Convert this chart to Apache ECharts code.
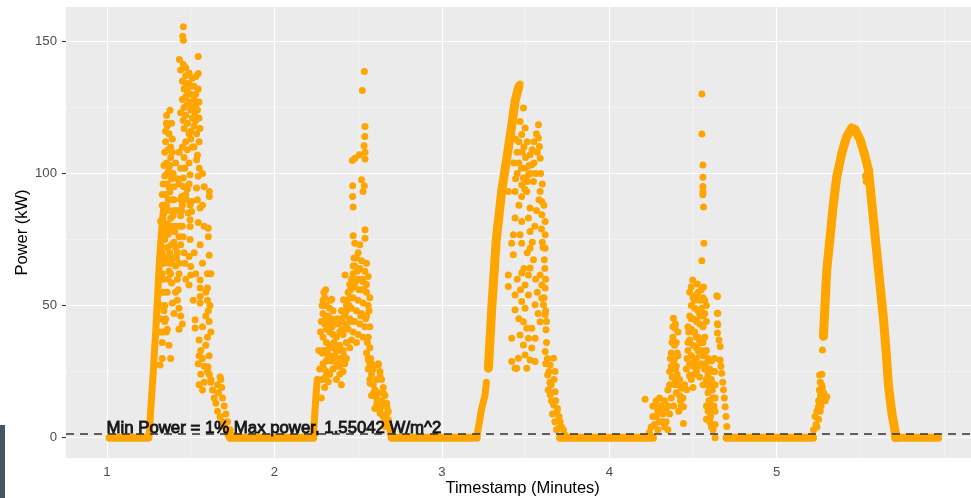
<!DOCTYPE html>
<html>
<head>
<meta charset="utf-8">
<script src="https://cdn.jsdelivr.net/npm/echarts@6/dist/echarts.min.js"></script>
<style>
html,body{margin:0;padding:0;background:#ffffff;}
#chart{width:971px;height:498px;}
</style>
</head>
<body>
<div id="chart"></div>
<script>
// ---- axes ----
const xTicks = [1, 2, 3, 4, 5];
const xMinorGrid = [1.5, 2.5, 3.5, 4.5, 5.5, 6];
const yTicks = [0, 50, 100, 150];
const yMinorGrid = [25, 75, 125];

// ---- threshold annotation ----
const minPower = 1.55042;
const minPowerText = 'Min Power = 1% Max power, 1.55042 W/m^2';

// ---- stretches where output stays at 0 kW: [start, end] in minutes ----
const zeroRuns = [[1.015, 1.245], [1.735, 2.232], [2.70, 3.208], [3.706, 4.261], [4.70, 5.217], [5.707, 5.964]];

// ---- tightly packed samples, traced as continuous bands ----
const rise1 = [[1.25, 0], [1.275, 23.7], [1.293, 42.6], [1.314, 68], [1.329, 80.5], [1.34, 88]];
const rise2 = [[2.232, 0], [2.24, 8], [2.248, 16], [2.256, 22]];
const rise3a = [[3.208, 0], [3.238, 11.1], [3.258, 16.2], [3.266, 21]];
const rise3b = [[3.278, 26.3], [3.298, 49], [3.324, 74.2], [3.357, 93.2], [3.388, 105.8], [3.418, 118.4], [3.437, 127.3], [3.46, 133]];
const arc5 = [[5.279, 38.3], [5.289, 50.9], [5.299, 63.5], [5.319, 76.1], [5.339, 88.8], [5.359, 98.9], [5.389, 107.7],
  [5.418, 114], [5.448, 117.2], [5.468, 116.6], [5.498, 112.8], [5.528, 106.4], [5.548, 101.4], [5.558, 95.1],
  [5.578, 82.5], [5.598, 69.8], [5.618, 57.2], [5.638, 44.6], [5.654, 32], [5.668, 19.3], [5.688, 9.2], [5.707, 2.3], [5.712, 0]];

// ---- individual samples (minutes, kW) ----
const day1Points = [
  [1.456,155.5],[1.452,151.9],[1.456,150.4],[1.545,144.3],[1.432,143.1],[1.456,141.2],[1.44,139.2],[1.545,137.8],[1.531,136.7],
  [1.45,135],[1.47,134],[1.46,132],[1.48,131],[1.5,130],[1.47,129],[1.45,128],[1.49,127],[1.52,128],[1.53,126],[1.46,125],
  [1.5,124],[1.54,124],[1.47,122],[1.51,121],[1.55,121],[1.44,123],[1.48,119],[1.52,118],[1.46,117],[1.545,132],[1.53,130],
  [1.55,127],[1.49,134],[1.51,136],[1.47,137],[1.455,120],[1.5,116],[1.525,123],
  [1.47,140],[1.49,138],[1.50,133],[1.52,133],[1.48,126],[1.51,125],[1.53,120],[1.49,115],[1.51,110],[1.47,112],[1.45,110],
  [1.43,108],[1.44,102],[1.42,98],[1.41,104],[1.40,95],[1.43,96],[1.45,88],[1.47,92],[1.49,96],
  [1.376,123.9],[1.356,121.9],[1.36,118],[1.37,115],[1.35,112],[1.365,109],[1.38,106],[1.355,104],[1.37,101],[1.385,98],
  [1.36,96],[1.375,93],[1.39,90],[1.355,88],[1.37,86],[1.38,83],[1.36,81],[1.39,113],[1.385,119],[1.345,99],[1.35,92],
  [1.39,108],[1.395,100],
  [1.33,92],[1.335,60],[1.34,55],[1.345,50],[1.35,45],[1.355,40],[1.36,55],[1.365,60],[1.37,66],[1.375,70],[1.38,62],
  [1.385,66],[1.39,80],[1.395,84],[1.40,86],[1.405,78],[1.41,72],[1.415,68],[1.42,60],[1.425,56],[1.43,66],[1.435,80],
  [1.44,90],[1.445,86],[1.45,80],[1.455,76],[1.46,70],[1.465,66],[1.47,60],[1.475,90],[1.48,94],[1.485,85],[1.34,48],
  [1.345,44],[1.335,40],[1.33,30],[1.325,55],[1.33,62],[1.335,96],[1.34,103],[1.345,108],[1.35,116],[1.355,119],[1.36,100],
  [1.365,90],[1.37,95],[1.375,103],[1.38,110],
  [1.535,115],[1.55,112],[1.52,110],[1.54,107],[1.5,113],[1.48,109],[1.535,105.2],[1.551,102],[1.465,102],[1.496,99.5],
  [1.545,98.9],[1.456,98.3],[1.456,95.1],[1.535,94.5],[1.555,117],[1.46,106],[1.49,104],
  [1.611,93.2],[1.611,91.3],[1.446,91.3],[1.505,89.4],[1.496,88.1],[1.556,86.9],[1.505,85.6],[1.496,82.5],[1.545,81.4],
  [1.496,79.9],[1.605,79.3],
  [1.33,88],[1.34,85],[1.32,82],[1.35,79],[1.38,78],[1.41,80],[1.43,76],[1.40,74],[1.36,72],[1.33,70],[1.42,70],[1.44,73],
  [1.39,68],[1.34,66],[1.37,63],[1.42,86],[1.40,90],[1.44,84],[1.345,75],[1.365,77],[1.385,73],[1.35,68],[1.41,65],[1.43,62],
  [1.496,75],[1.556,73],[1.605,76],[1.61,69],[1.62,62],[1.49,68.6],[1.5,64.8],[1.5,61.6],[1.49,57.8],[1.556,59.7],
  [1.556,56.6],[1.556,53.4],[1.556,51],[1.526,44.6],[1.526,41.5],[1.386,58.5],
  [1.57,100],[1.58,95],[1.57,88],[1.58,80],[1.57,66],[1.59,55],[1.6,62],[1.615,50],[1.53,62],[1.52,70],[1.54,90],[1.515,52],
  [1.41,55],[1.42,52],[1.43,49],[1.44,46],[1.45,43],[1.43,41],[1.40,47],[1.39,51],
  [1.32,50],[1.32,45],[1.32,40],[1.33,36],[1.36,41],[1.37,35],[1.38,30],[1.317,27.5],
  [1.60,56.6],[1.60,52],[1.605,48],[1.61,44],
  [1.55,37],[1.56,33],[1.57,30],[1.58,27],[1.56,24],[1.55,20],[1.57,18],[1.59,35],[1.6,38],[1.61,31],[1.6,25],[1.62,22],
  [1.58,21],[1.57,42],[1.59,46],[1.62,40],[1.545,28],[1.55,31],
  [1.603,26.8],[1.61,24],[1.62,21],[1.63,18],[1.64,15],[1.65,13],[1.66,10],[1.675,8],[1.69,6],[1.70,4],[1.715,2],[1.723,1],
  [1.675,23],[1.685,19],[1.69,15],[1.70,12],[1.71,9],[1.72,6],[1.735,3],[1.747,1],[1.68,22],[1.665,17],[1.66,20]
];
const day2Points = [
  [2.537,138.6],[2.525,131.4],[2.541,117.8],[2.54,114],[2.535,110.5],[2.541,108],[2.541,105.5],[2.465,104.9],[2.481,105.8],
  [2.507,107.1],[2.52,97.6],[2.537,95.3],[2.529,93.2],[2.467,95.3],[2.467,91.3],[2.47,87.3],[2.541,78.7],[2.47,76.4],
  [2.541,75.5],[2.48,73.6],[2.51,73],
  [2.50,70],[2.49,68],[2.52,67],[2.55,66],[2.48,65],[2.51,64],[2.54,63],[2.56,61],[2.47,62],[2.50,60],[2.53,59],[2.45,58],
  [2.48,57],[2.52,56],[2.55,55],[2.44,55],[2.47,53],[2.50,52],[2.53,51],[2.56,50],[2.43,50],[2.46,49],[2.49,48],[2.52,47],
  [2.55,46],[2.45,45],[2.48,44],[2.51,43],[2.54,42],[2.47,40],[2.50,39],[2.53,38],[2.49,36],[2.55,58],[2.57,53],[2.42,46],
  [2.44,41],[2.46,37],[2.422,61.6],[2.412,52.2],
  [2.306,56],[2.342,52.4],[2.30,53],[2.31,50],[2.33,49],[2.35,48],[2.29,47],[2.32,46],[2.34,45],[2.36,44],[2.38,43],
  [2.40,45],[2.42,47],[2.30,43],[2.31,41],[2.33,40],[2.35,39],[2.37,38],[2.39,40],[2.41,39],[2.43,42],[2.29,38],[2.31,36],
  [2.33,35],[2.35,34],[2.37,33],[2.39,35],[2.41,33],[2.43,36],[2.30,32],[2.32,30],[2.34,29],[2.36,31],[2.38,28],[2.40,30],
  [2.42,28],[2.29,28],[2.31,25],[2.33,24],[2.35,26],[2.37,22],[2.39,24],[2.285,22],[2.30,19],[2.322,21.2],[2.28,15],
  [2.40,20],[2.27,26],[2.265,33],
  [2.275,40],[2.28,44],[2.285,50],[2.29,52],[2.295,55],[2.305,45],[2.315,33],[2.325,43],[2.335,52],[2.345,42],[2.355,36],
  [2.365,35],[2.375,45],[2.385,33],[2.39,30],[2.395,44],[2.40,48],[2.405,41],[2.415,31],[2.425,43],[2.43,48],[2.435,52],
  [2.445,50],[2.45,53],[2.455,56],[2.46,60],[2.465,57],[2.47,65],[2.475,68],[2.485,59],[2.495,63],[2.505,56],[2.515,46],
  [2.525,60],[2.535,56],[2.545,45],[2.555,36],[2.565,48],[2.57,42],[2.56,38],[2.57,34],[2.575,30],[2.58,28],[2.29,33],
  [2.31,29],[2.33,31],[2.35,30],[2.37,27],[2.39,27],[2.41,25],[2.43,30],[2.45,34],[2.46,44],[2.285,32],[2.295,26],[2.305,23],
  [2.561,29.4],[2.621,27.5],[2.631,23.1],[2.571,20.6],[2.591,16.8],[2.651,16.8],[2.611,13],[2.671,11.7],[2.631,9.2],
  [2.681,6.7],[2.661,4.2],[2.691,1.7],
  [2.55,32],[2.56,30],[2.57,28],[2.56,26],[2.58,24],[2.57,22],[2.59,20],[2.60,18],[2.58,16],[2.61,15],[2.62,13],[2.60,11],
  [2.63,10],[2.64,12],[2.65,8],[2.66,6],[2.67,9],[2.68,5],[2.69,3],[2.62,17],[2.64,14],[2.59,26],[2.61,22],
  [2.62,28],[2.63,25],[2.64,22],[2.65,19],[2.66,16],[2.67,13],[2.68,10]
];
const day3Points = [
  [3.467,133.9],[3.447,131.1],[3.437,126],[3.427,121],[3.487,124.8],[3.467,119.7],[3.477,114.7],[3.497,117.2],[3.577,118.4],
  [3.577,113.4],[3.583,110.2],[3.587,105.8],[3.527,107.1],[3.537,103.3],[3.517,99.5],[3.487,98.3],[3.547,97],[3.477,95.7],
  [3.507,93.2],[3.587,93.2],[3.477,91.3],[3.437,93.2],[3.397,93.2],[3.527,86.9],[3.517,83.1],[3.597,89.4],[3.597,84.4],
  [3.617,81.8],[3.437,83.1],[3.477,81.8],[3.427,76.8],[3.417,73.6],[3.467,76.8],[3.477,73.6],[3.527,78],[3.527,71.7],
  [3.427,69.2],[3.617,76.8],[3.617,71.7],[3.612,67.3],[3.547,67.3],[3.527,64.2],[3.517,61.6],[3.397,61.6],[3.477,62.3],
  [3.397,57.2],[3.437,54],[3.497,57.8],[3.517,54],[3.587,61.6],[3.597,57.8],[3.617,56.6],[3.597,52.8],[3.477,51.5],
  [3.497,49],[3.437,48.4],[3.557,50.3],[3.607,50.3],[3.617,46.5],[3.587,43.9],[3.622,40.8],
  [3.487,43.9],[3.507,41.4],[3.537,41.4],[3.467,38.9],[3.517,37.6],[3.557,37.6],[3.487,35.1],[3.537,33.9],[3.497,31.3],
  [3.457,30.1],[3.527,29.4],[3.557,28.8],[3.447,26.3],[3.507,26.3],[3.417,37.6],[3.417,28.8],[3.437,26.3],
  [3.45,60],[3.46,45],[3.47,56],[3.49,64],[3.51,70],[3.54,74],[3.56,60],[3.57,55],[3.575,47],[3.58,90],[3.565,86],
  [3.555,80],[3.46,88],[3.44,98],[3.43,104],[3.45,100],[3.475,102],
  [3.49,110],[3.50,106],[3.51,112],[3.52,103],[3.54,109],[3.55,104],[3.56,100],[3.57,108],[3.53,100],[3.50,102],[3.48,108],
  [3.46,112],[3.55,112],[3.565,115],[3.51,97],[3.495,94],[3.46,104],[3.45,108],[3.44,113],
  [3.59,100],[3.6,96],[3.595,79],[3.6,74],[3.61,53],[3.62,48],[3.625,44],[3.61,88],[3.615,64],[3.62,60],[3.605,72],
  [3.617,32.6],[3.667,30.1],[3.647,27.5],[3.676,25],[3.632,23.7],[3.652,20],[3.676,17.4],[3.647,16.2],[3.667,12.4],
  [3.688,9.8],[3.706,6.1],[3.726,2.9],[3.697,3.6],[3.625,36],[3.63,30],[3.64,25],[3.645,21],[3.655,14],[3.66,9],[3.675,6],
  [3.685,3],[3.62,28],[3.635,18],[3.67,22],[3.68,14],[3.69,11],[3.70,8],[3.715,4],[3.735,1]
];
const day4Points = [
  [4.553,130.1],[4.553,114.9],[4.559,103.2],[4.559,98.6],[4.559,95.1],[4.559,93.2],[4.559,91.9],[4.563,87.3],[4.565,73.6],
  [4.553,67],[4.498,59.7],[4.489,57],[4.526,58.2],[4.563,57],[4.642,53.7],[4.646,47.1],[4.646,43.1],
  [4.214,14.5],[4.25,4],[4.26,8],[4.27,12],[4.28,14],[4.29,10],[4.30,6],[4.31,12],[4.32,9],[4.33,14],[4.34,11],[4.30,15],
  [4.27,5],[4.29,3],[4.33,4],[4.3,10],[4.32,6],[4.28,8],[4.35,3],[4.24,2],[4.26,12],
  [4.383,45.2],[4.393,41.4],[4.38,38],[4.39,35],[4.37,32],[4.385,29],[4.395,26],[4.375,23],[4.39,20],[4.40,17],[4.37,15],
  [4.385,12],[4.36,9],[4.40,36],[4.41,31],[4.405,24],[4.35,18],[4.36,25],[4.37,27],[4.42,22],[4.43,19],[4.433,18.7],
  [4.443,11.7],[4.443,5.4],[4.425,14],[4.415,10],[4.463,18.1],[4.479,23.4],[4.483,23.7],[4.41,40],[4.395,43],
  [4.34,6],[4.35,12],[4.36,20],[4.365,30],[4.375,36],[4.38,42],[4.39,30],[4.395,22],[4.40,27],[4.405,32],[4.41,20],
  [4.42,16],[4.43,12],[4.44,15],[4.45,20],[4.46,26],[4.465,30],[4.47,36],[4.475,40],[4.48,28],[4.49,22],[4.50,19],
  [4.51,24],[4.52,30],[4.53,33],[4.54,36],[4.55,33],[4.56,36],[4.57,32],[4.575,28],[4.58,26],[4.585,20],[4.59,24],
  [4.595,14],[4.60,10],[4.605,8],[4.61,4],[4.615,18],[4.62,20],[4.625,12],[4.49,45],[4.51,52],[4.53,55],[4.55,56],
  [4.57,52],[4.50,40],[4.52,38],[4.54,46],[4.56,46],
  [4.48,55],[4.50,53],[4.52,54],[4.54,52],[4.56,53],[4.49,50],[4.51,49],[4.53,48],[4.55,49],[4.57,47],[4.48,46],[4.50,45],
  [4.52,44],[4.54,43],[4.56,42],[4.49,41],[4.51,40],[4.53,38],[4.55,37],[4.57,38],[4.48,37],[4.50,35],[4.52,34],[4.54,32],
  [4.56,31],[4.58,33],[4.49,31],[4.51,29],[4.53,27],[4.55,28],[4.57,26],[4.58,22],[4.56,20],[4.54,23],[4.52,25],[4.50,27],
  [4.47,33],[4.47,42],[4.58,44],[4.58,50],
  [4.59,30],[4.60,26],[4.61,22],[4.60,18],[4.62,15],[4.61,12],[4.59,10],[4.60,6],[4.62,3],[4.62,25],[4.61,29],[4.59,17],
  [4.60,14],[4.58,12],[4.58,7],
  [4.628,30],[4.63,25],[4.632,20],[4.632,15],[4.632,10],[4.632,5],[4.632,0],
  [4.646,53.4],[4.648,47.1],[4.648,42.7],[4.646,39.6],[4.655,37],[4.662,34.5],[4.662,29.4],[4.667,27],[4.672,24.4],
  [4.677,21],[4.682,18.1],[4.687,15],[4.692,11.7],[4.697,8],[4.702,4.2]
];
const day5Points = [
  [5.209,0.5],[5.22,3],[5.229,8],[5.235,5],[5.24,10],[5.249,11.7],[5.25,14],[5.255,18],[5.256,23.7],[5.26,21],[5.262,16],
  [5.265,12],[5.268,20],[5.27,24],[5.272,19],[5.299,15.5],[5.29,14],[5.28,17],[5.273,33.2],[5.26,10],[5.25,7],[5.24,4],
  [5.53,99],[5.535,97]
];

const ORANGE = '#FFA500';
const FONT = '"Liberation Sans", Arial, sans-serif';

function band(data, width) {
  return {
    type: 'line', data: data, showSymbol: false, silent: true, z: 2,
    lineStyle: { color: ORANGE, width: width, cap: 'round', join: 'round' }
  };
}
function dots(data) {
  return {
    type: 'scatter', data: data, symbol: 'circle', symbolSize: 7, silent: true, z: 3,
    itemStyle: { color: ORANGE, opacity: 1 }
  };
}

const gridLines = [].concat(
  xMinorGrid.map(v => ({ xAxis: v, lineStyle: { width: 0.6, color: '#F7F7F7' } })),
  yMinorGrid.map(v => ({ yAxis: v, lineStyle: { width: 0.6, color: '#F7F7F7' } })),
  xTicks.map(v => ({ xAxis: v, lineStyle: { width: 1.2, color: '#FFFFFF' } })),
  yTicks.map(v => ({ yAxis: v, lineStyle: { width: 1.2, color: '#FFFFFF' } }))
);

const series = [
  {
    type: 'scatter', data: [], silent: true,
    markLine: { silent: true, symbol: ['none', 'none'], z: 1, animation: false,
      label: { show: false }, lineStyle: { type: 'solid' }, data: gridLines }
  }
];
zeroRuns.forEach(r => series.push(band([[r[0], 0], [r[1], 0]], 8)));
series.push(band(rise1, 7), band(rise2, 7), band(rise3a, 7), band(rise3b, 9), band(arc5, 9));
series.push(dots(day1Points), dots(day2Points), dots(day3Points), dots(day4Points), dots(day5Points));
series.push({
  type: 'scatter', data: [], silent: true,
  markLine: { silent: true, symbol: ['none', 'none'], z: 5, animation: false, label: { show: false },
    lineStyle: { type: [8, 6], color: '#333333', width: 1.6 }, data: [{ yAxis: minPower }] }
});
series.push({
  type: 'scatter', data: [[1, 0]], symbolSize: 1, silent: true, z: 6,
  itemStyle: { color: 'rgba(0,0,0,0)' },
  label: { show: true, formatter: minPowerText, position: [0, 0], align: 'left', verticalAlign: 'bottom',
    fontFamily: FONT, fontSize: 16.8, color: '#000000', textBorderColor: '#000000', textBorderWidth: 1 }
});

const chart = echarts.init(document.getElementById('chart'), null, { renderer: 'canvas' });
chart.setOption({
  animation: false,
  backgroundColor: '#FFFFFF',
  grid: { left: 66, top: 7, right: -8.3, bottom: 40, show: true, backgroundColor: '#EBEBEB', borderWidth: 0,
    containLabel: false, outerBoundsMode: 'none' },
  xAxis: {
    type: 'value', min: 0.755, max: 6.21,
    name: 'Timestamp (Minutes)', nameLocation: 'middle', nameGap: 22, nameMoveOverlap: false,
    nameTextStyle: { fontFamily: FONT, fontSize: 16.5, color: '#000000' },
    axisLine: { show: false },
    axisTick: { show: true, length: 4, customValues: xTicks, lineStyle: { color: '#333333', width: 1.1 } },
    axisLabel: { customValues: xTicks, margin: 7.5, fontFamily: FONT, fontSize: 13.2, color: '#4D4D4D' },
    splitLine: { show: false }, minorSplitLine: { show: false }
  },
  yAxis: {
    type: 'value', min: -7.7, max: 163.0,
    name: 'Power (kW)', nameLocation: 'middle', nameGap: 35, nameRotate: 90, nameMoveOverlap: false,
    nameTextStyle: { fontFamily: FONT, fontSize: 16.5, color: '#000000' },
    axisLine: { show: false },
    axisTick: { show: true, length: 4, customValues: yTicks, lineStyle: { color: '#333333', width: 1.1 } },
    axisLabel: { customValues: yTicks, margin: 9, fontFamily: FONT, fontSize: 13.2, color: '#4D4D4D' },
    splitLine: { show: false }, minorSplitLine: { show: false }
  },
  graphic: [
    { type: 'rect', left: 0, top: 425, shape: { width: 5, height: 73 }, style: { fill: '#47555F' }, z: 100 }
  ],
  series: series
});
</script>
</body>
</html>
